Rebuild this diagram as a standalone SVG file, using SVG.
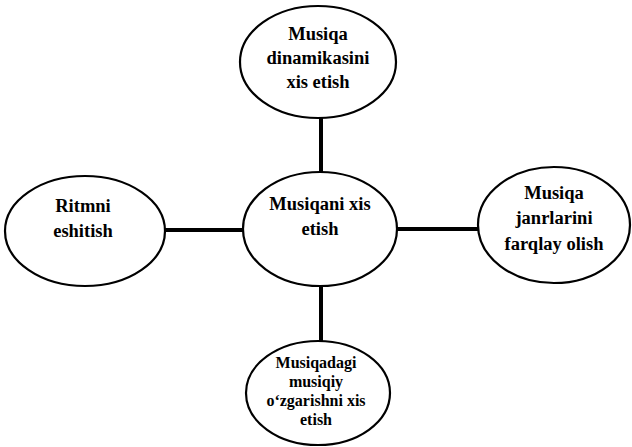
<svg xmlns="http://www.w3.org/2000/svg" width="632" height="447" viewBox="0 0 632 447">
<style>
.n{fill:#fff;stroke:#000;stroke-width:2.2}
.t{font-family:"Liberation Serif","DejaVu Serif",serif;font-weight:bold;font-size:18.5px;fill:#000;text-anchor:middle}
.s{font-size:16px}
.c{stroke:#000;stroke-width:4;fill:none}
</style>
<rect width="632" height="447" fill="#fff"/>
<g id="connectors">
<line class="c" x1="321" y1="117" x2="321" y2="173"/>
<line class="c" x1="321" y1="285" x2="321" y2="342"/>
<line class="c" x1="165" y1="230" x2="243" y2="230"/>
<line class="c" x1="397" y1="229" x2="479" y2="229"/>
</g>
<g id="top">
<ellipse class="n" cx="318" cy="62" rx="78" ry="56"/>
<text class="t" x="318" y="40">Musiqa</text>
<text class="t" x="318" y="64">dinamikasini</text>
<text class="t" x="318" y="88">xis etish</text>
</g>
<g id="center">
<ellipse class="n" cx="320" cy="229" rx="77" ry="57"/>
<text class="t" x="320" y="210">Musiqani xis</text>
<text class="t" x="320" y="235">etish</text>
</g>
<g id="left">
<ellipse class="n" cx="85" cy="231" rx="80" ry="55"/>
<text class="t" x="83" y="212">Ritmni</text>
<text class="t" x="83" y="237">eshitish</text>
</g>
<g id="right">
<ellipse class="n" cx="554" cy="225" rx="76" ry="58"/>
<text class="t" x="554" y="199">Musiqa</text>
<text class="t" x="554" y="224">janrlarini</text>
<text class="t" x="554" y="250">farqlay olish</text>
</g>
<g id="bottom">
<ellipse class="n" cx="318" cy="393" rx="72" ry="52"/>
<text class="t s" x="316" y="368">Musiqadagi</text>
<text class="t s" x="316" y="387">musiqiy</text>
<text class="t s" x="316" y="406">o‘zgarishni xis</text>
<text class="t s" x="316" y="425">etish</text>
</g>
</svg>
